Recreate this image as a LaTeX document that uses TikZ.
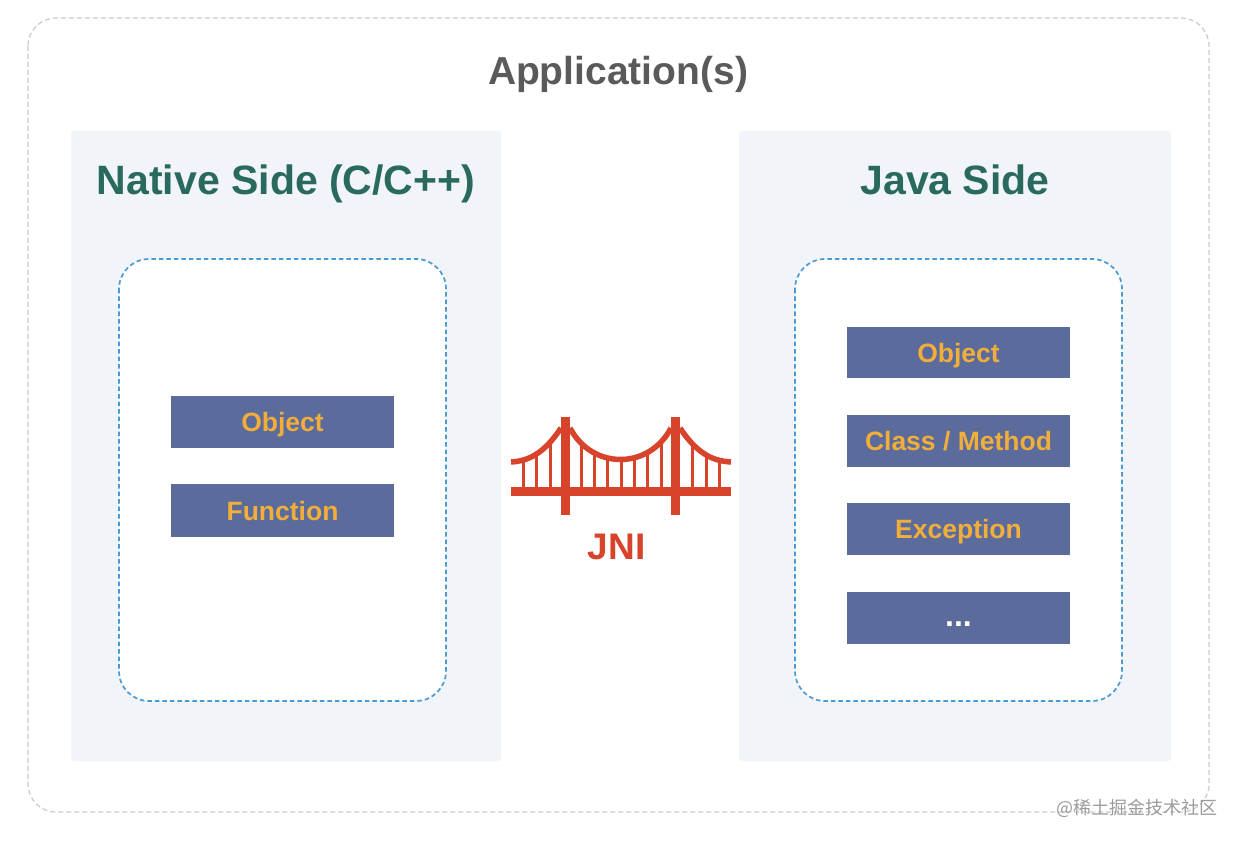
\documentclass[tikz,border=0pt]{standalone}
\usepackage{fontspec}
\setmainfont{Liberation Sans}
\newfontfamily\cjk{Noto Sans CJK SC}
\definecolor{outerdash}{HTML}{CBCBCB}
\definecolor{panelfill}{HTML}{F1F5F9}
\definecolor{innerdash}{HTML}{4A9AD4}
\definecolor{boxfill}{HTML}{5B6B9B}
\definecolor{boxtext}{HTML}{F2AE3A}
\definecolor{titleteal}{HTML}{2A6A5E}
\definecolor{appgray}{HTML}{5A5A5A}
\definecolor{jnired}{HTML}{D8432C}
\definecolor{wmgray}{HTML}{9C9C9C}
\tikzset{
  panel/.style={fill=panelfill, draw=none, rounded corners=3pt},
  innerbox/.style={fill=white, draw=innerdash, line width=1.7pt, dash pattern=on 4.5pt off 3pt, rounded corners=30pt},
  itembox/.style={fill=boxfill, draw=none},
  itemtext/.style={text=boxtext, font=\fontsize{26.5}{31}\selectfont\bfseries, anchor=base, inner sep=0pt},
  sidetitle/.style={text=titleteal, font=\fontsize{41}{49}\selectfont\bfseries, anchor=base, inner sep=0pt},
  cable/.style={draw=jnired, line width=5.5pt},
  hanger/.style={draw=jnired, line width=3pt},
}
\begin{document}
\begin{tikzpicture}[x=1pt,y=-1pt]
\useasboundingbox (0,0) rectangle (1242,842);
\fill[white] (0,0) rectangle (1242,842);
% outer dashed
\draw[outerdash, line width=1.2pt, dash pattern=on 5pt off 3pt, rounded corners=28pt] (28,18) rectangle (1209,812);
\node[text=appgray, font=\fontsize{39}{46}\selectfont\bfseries, anchor=base, inner sep=0pt] (app) at (618,85) {Application(s)};
% panels
\fill[panel] (71,131) rectangle (501,761);
\fill[panel] (739,131) rectangle (1171,761);
\node[sidetitle] (native) at (286,195) {Native Side (C/C++)};
\node[sidetitle] (java) at (955,195) {Java Side};
% inner dashed
\draw[innerbox] (119,259) rectangle (446,701);
\draw[innerbox] (795,259) rectangle (1122,701);
% left items
\fill[itembox] (171,396) rectangle (394,448);
\node[itemtext] (lobj) at (282.5,431.5) {Object};
\fill[itembox] (171,484) rectangle (394,537);
\node[itemtext] (lfun) at (282.5,520) {Function};
% right items
\fill[itembox] (847,327) rectangle (1070,378);
\node[itemtext] (robj) at (958.5,362) {Object};
\fill[itembox] (847,415) rectangle (1070,467);
\node[itemtext] (rcls) at (958.5,450.5) {Class / Method};
\fill[itembox] (847,503) rectangle (1070,555);
\node[itemtext] (rexc) at (958.5,538.5) {Exception};
\fill[itembox] (847,592) rectangle (1070,644);
\node[itemtext, text=white, font=\fontsize{32}{36}\selectfont\bfseries] (rdots) at (958.5,626) {...};
% bridge hangers (clipped below cables)
\begin{scope}
\clip (570,428) .. controls (592,470) and (649,470) .. (671,428) -- (671,495) -- (570,495) -- cycle;
\foreach \hx in {581,594.3,607.7,621,634.3,647.7,661} \draw[hanger] (\hx,400) -- (\hx,490);
\end{scope}
\begin{scope}
\clip (561,428) .. controls (545,452) and (530,461) .. (511,462) -- (511,495) -- (561,495) -- cycle;
\foreach \hx in {523.3,536.7,550} \draw[hanger] (\hx,400) -- (\hx,490);
\end{scope}
\begin{scope}
\clip (680,428) .. controls (696,452) and (711,461) .. (731,462) -- (731,495) -- (680,495) -- cycle;
\foreach \hx in {692.7,706,719.3} \draw[hanger] (\hx,400) -- (\hx,490);
\end{scope}
% cables
\draw[cable] (570,428) .. controls (592,470) and (649,470) .. (671,428);
\draw[cable] (561,428) .. controls (545,452) and (530,461) .. (511,462);
\draw[cable] (680,428) .. controls (696,452) and (711,461) .. (731,462);
% deck and towers
\fill[jnired] (511,487) rectangle (731,495.5);
\fill[jnired] (561,417) rectangle (570,515);
\fill[jnired] (671,417) rectangle (680,515);
\node[text=jnired, font=\fontsize{37}{44}\selectfont\bfseries, anchor=base, inner sep=0pt] (jni) at (616.5,559) {JNI};
% watermark
\node[text=wmgray, font=\cjk\fontsize{18}{22}\selectfont, anchor=east, inner sep=0pt] (wm) at (1218,808) {@稀土掘金技术社区};
\end{tikzpicture}
\end{document}
